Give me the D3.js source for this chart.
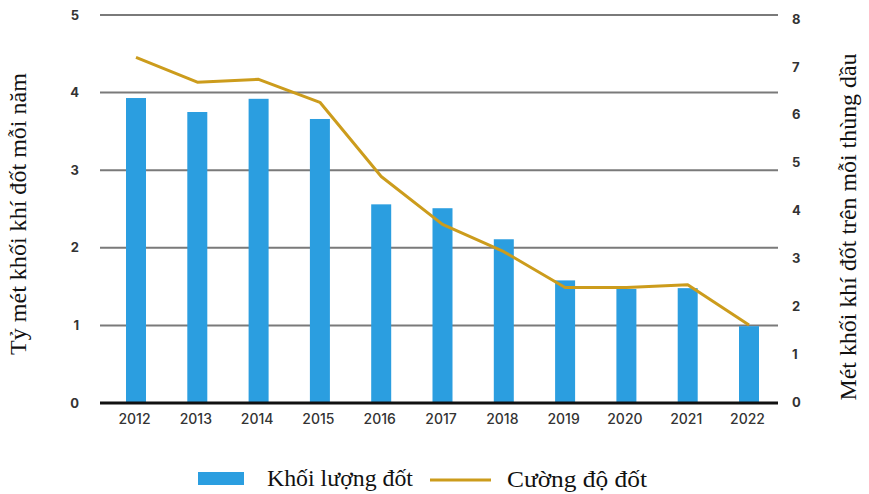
<!DOCTYPE html>
<html><head><meta charset="utf-8">
<script src="https://cdn.jsdelivr.net/npm/d3@7/dist/d3.min.js"></script>
<style>body{margin:0;background:#fff}</style>
</head><body>
<svg id="c" width="869" height="494"></svg>
<script>
const years = ["2012","2013","2014","2015","2016","2017","2018","2019","2020","2021","2022"];
const volume = [3.93,3.75,3.92,3.66,2.56,2.51,2.11,1.58,1.47,1.48,0.99];
const intensity = [7.2,6.68,6.74,6.26,4.71,3.71,3.14,2.39,2.39,2.45,1.61];
const leftTicks = [0,1,2,3,4,5];
const rightTicks = [0,1,2,3,4,5,6,7,8];
const leftTitle = "Tỷ mét khối khí đốt mỗi năm";
const rightTitle = "Mét khối khí đốt trên mỗi thùng dầu";
const legendBar = "Khối lượng đốt";
const legendLine = "Cường độ đốt";

const svg = d3.select("#c");
const x = d3.scalePoint().domain(years).range([134, 747]);
const yL = d3.scaleLinear().domain([0,5]).range([403, 15]);
const yR = d3.scaleLinear().domain([0,8]).range([402, 19]);
const barColor = "#2b9ee0", lineColor = "#cc9c1c";

// gridlines
svg.append("g").selectAll("line").data(leftTicks.filter(d=>d>0)).join("line")
  .attr("x1",100).attr("x2",778).attr("y1",d=>yL(d)).attr("y2",d=>yL(d))
  .attr("stroke","#7a7a7a").attr("stroke-width",2);

// bars
const bw = 20;
svg.append("g").selectAll("rect").data(years).join("rect")
  .attr("x",(d)=>x(d)-bw/2+2).attr("width",bw)
  .attr("y",(d,i)=>yL(volume[i])).attr("height",(d,i)=>yL(0)-yL(volume[i]))
  .attr("fill",barColor);

// baseline
svg.append("line").attr("x1",100).attr("x2",778).attr("y1",yL(0)).attr("y2",yL(0))
  .attr("stroke","#111").attr("stroke-width",3);

// line
const line = d3.line().x((d,i)=>x(years[i])+2).y(d=>yR(d));
svg.append("path").datum(intensity).attr("d",line).attr("fill","none")
  .attr("stroke",lineColor).attr("stroke-width",3).attr("stroke-linejoin","round");

const sans = "Inter, 'DejaVu Sans', sans-serif";
// left axis
const axL = d3.axisLeft(yL).tickValues(leftTicks).tickFormat(d3.format("d")).tickSize(0).tickPadding(0);
const gL = svg.append("g").attr("transform","translate(79,0)").call(axL);
gL.select(".domain").remove();
gL.selectAll("text").attr("font-family",sans).attr("font-weight","700")
  .attr("font-size",13).attr("fill","#333");

// right axis
const axR = d3.axisRight(yR).tickValues(rightTicks).tickFormat(d3.format("d")).tickSize(0).tickPadding(0);
const gR = svg.append("g").attr("transform","translate(792,0)").call(axR);
gR.select(".domain").remove();
gR.selectAll("text").attr("font-family",sans).attr("font-weight","700")
  .attr("font-size",13).attr("fill","#333");

// bottom axis
const axB = d3.axisBottom(x).tickSize(0).tickPadding(0);
const gB = svg.append("g").attr("transform","translate(0,414)").call(axB);
gB.select(".domain").remove();
gB.selectAll("text").attr("font-family",sans).attr("font-weight","500")
  .attr("font-size",14).attr("fill","#333");

// titles
const serif = "'Liberation Serif', 'Times New Roman', serif";
svg.append("text").attr("transform","translate(26,214) rotate(-90)").attr("text-anchor","middle")
  .attr("font-family",serif).attr("font-size",23).attr("fill","#111")
  .attr("textLength",282).attr("lengthAdjust","spacingAndGlyphs").text(leftTitle);
svg.append("text").attr("transform","translate(856,227) rotate(-90)").attr("text-anchor","middle")
  .attr("font-family",serif).attr("font-size",23).attr("fill","#111")
  .attr("textLength",347).attr("lengthAdjust","spacingAndGlyphs").text(rightTitle);

// legend
svg.append("rect").attr("x",198).attr("y",472).attr("width",46).attr("height",13).attr("fill",barColor);
svg.append("text").attr("x",267).attr("y",486).attr("font-family",serif).attr("font-size",23).attr("fill","#111")
  .attr("textLength",146).attr("lengthAdjust","spacingAndGlyphs").text(legendBar);
svg.append("line").attr("x1",430).attr("x2",491).attr("y1",480).attr("y2",480).attr("stroke",lineColor).attr("stroke-width",3);
svg.append("text").attr("x",507).attr("y",487).attr("font-family",serif).attr("font-size",23).attr("fill","#111")
  .attr("textLength",140).attr("lengthAdjust","spacingAndGlyphs").text(legendLine);
</script>
</body></html>
